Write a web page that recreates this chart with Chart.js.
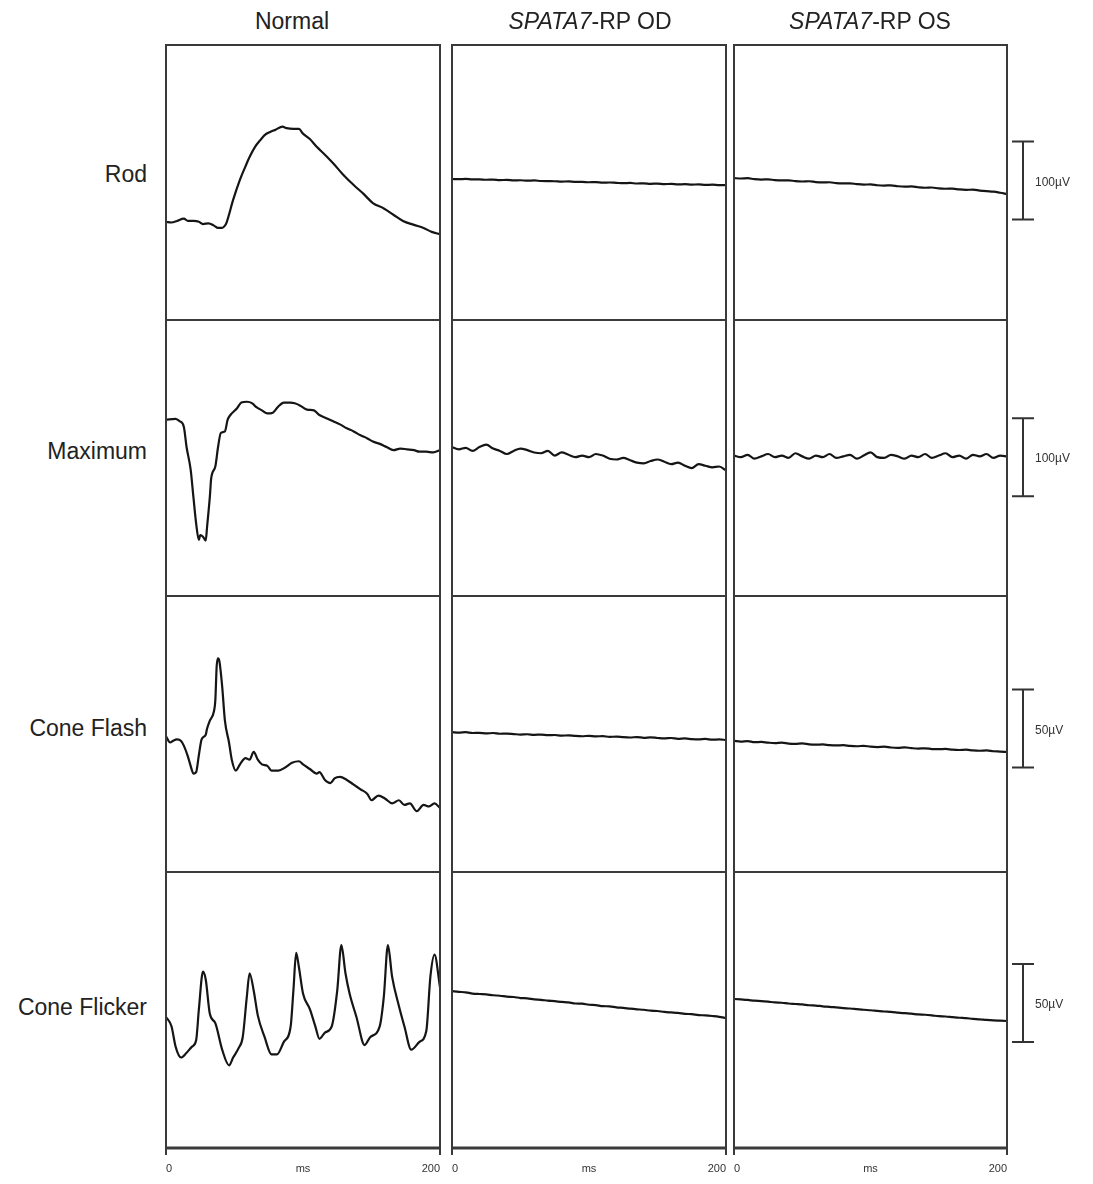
<!DOCTYPE html>
<html><head><meta charset="utf-8">
<script src="https://cdn.jsdelivr.net/npm/chart.js@4.4.1/dist/chart.umd.min.js"></script>
<style>
body{margin:0;background:#fff;width:1093px;height:1184px;position:relative;overflow:hidden;font-family:"Liberation Sans",Arial,sans-serif;color:#222}
.p{position:absolute}
.lab{position:absolute;font-size:23px;white-space:nowrap;line-height:1}
</style></head><body>
<script>
// ---------- data ----------
const rowNames = ['Rod', 'Maximum', 'Cone Flash', 'Cone Flicker'];
const gene = 'SPATA7';
const colTitles = ['Normal', '-RP OD', '-RP OS'];
const xTicks = ['0', 'ms', '200'];
const barSizes = [100, 100, 50, 50];          // µV
const barLow = [129, 128, 67, 68];            // µV, lower end of scale bar
const yMax = [352.6, 353.8, 176.9, 176.9];    // µV range of each row

const normalRodT = [0,4,8,13,16,20,24,27,31,35,38,41,43,44,49,54,58,61,65,69,72,76,80,85,88,93,97,100,105,110,116,122,129,137,144,151,159,166,173,181,188,194,200];
const normalRodV = [126,125,127,130,127,127,126,123,124,121,118,118,121,124,154,180,197,209,222,231,237,241,244,248,246,245,245,239,232,222,212,201,187,173,162,150,143,135,127,122,118,113,110];

const normalMaxT = [0,7,10,13,15,18,20,22,24,25,27,29,30,32,33,36,38,40,43,45,47,52,55,59,63,66,70,74,78,82,86,91,94,98,103,108,112,117,122,127,132,137,142,147,151,156,161,166,171,176,181,185,190,195,200];
const normalMaxV = [226,227,224,217,191,162,127,93,72,78,76,71,89,127,151,166,191,209,211,226,232,241,248,249,247,242,238,234,235,243,248,248,247,244,239,238,232,228,224,220,215,211,206,202,198,195,191,187,189,188,187,185,185,184,187];

const normalConeT = [0,3,5,8,11,13,16,19,20,22,24,26,29,30,32,35,36,37,38,39,41,43,46,48,51,54,58,61,64,67,70,74,77,82,87,92,97,100,105,110,112,116,120,123,127,132,137,142,147,150,155,160,165,170,174,178,183,188,192,196,200];
const normalConeV = [87,83,84,85,84,81,74,65,63,64,75,85,88,92,97,103,110,132,137,135,119,97,83,72,65,69,73,72,77,72,69,68,65,65,67,70,71,69,66,63,64,59,57,60,61,59,56,53,50,46,49,47,44,46,43,44,39,43,42,44,41];

const normalFlickT = [0,4,7,11,15,19,22,24,27,29,32,36,41,46,49,53,56,59,61,64,67,72,77,81,86,91,93,95,97,100,105,109,112,116,121,125,128,131,134,139,145,149,156,159,162,165,170,174,179,185,190,193,196,200];
const normalFlickV = [84,78,65,58,61,65,69,89,113,108,86,80,63,53,58,64,71,97,112,101,85,71,60,60,68,78,101,125,116,99,89,78,70,74,78,101,130,112,99,84,66,71,78,97,130,110,91,78,63,68,75,110,124,103];

const fineT = [0,5,10,15,20,25,30,35,40,45,50,55,60,65,70,75,80,85,90,95,100,105,110,115,120,125,130,135,140,145,150,155,160,165,170,175,180,185,190,195,200];

const rodOD = [180.8,180.5,180.9,180.2,180.3,179.8,180.0,179.4,179.6,179.0,179.2,178.6,178.9,178.2,178.0,177.9,177.4,177.8,177.0,177.2,176.6,176.9,176.1,176.3,175.8,175.4,175.7,175.0,175.3,174.6,174.9,174.2,174.5,173.9,174.1,173.6,173.9,173.2,173.5,172.9,173.1];
const rodOS = [182.0,181.4,181.8,180.6,180.1,180.4,179.3,178.9,179.1,178.0,177.6,177.9,176.8,176.5,176.6,175.4,175.1,175.3,174.2,173.6,173.9,172.8,172.4,172.7,171.5,170.9,171.3,170.2,169.6,169.9,168.7,168.3,168.5,167.4,166.9,167.1,166.0,165.2,164.6,163.2,161.5];
const maxOD = [191,188,190,186,191,194,189,186,182,186,189,187,184,183,186,180,184,181,178,180,178,182,180,176,175,177,174,171,170,173,175,172,169,171,167,164,169,167,165,166,161];
const maxOS = [180,178,181,176,179,182,178,180,177,183,179,176,180,178,182,177,179,181,176,180,184,178,177,181,179,176,180,178,182,177,180,183,178,180,176,181,179,182,177,180,179];
const coneOD = [89.7,89.3,89.6,89.1,89.2,88.8,89.1,88.6,88.7,88.4,88.1,88.3,87.9,88.1,87.7,87.8,87.4,87.6,87.2,87.0,87.3,86.9,87.1,86.6,86.8,86.4,86.2,86.5,86.0,86.3,85.9,85.6,85.9,85.3,85.6,85.2,85.0,85.3,84.8,85.0,84.6];
const coneOS = [84.0,83.6,83.9,83.2,83.4,82.9,82.6,82.9,82.3,82.1,82.4,81.8,81.6,81.8,81.3,81.1,81.3,80.8,80.6,80.9,80.3,80.1,80.3,79.8,79.6,79.9,79.4,79.1,79.3,78.8,78.7,78.9,78.4,78.2,78.4,77.9,77.7,77.9,77.4,77.2,76.9];
const flickOD = [100.6,100.1,99.8,99.0,98.7,98.5,97.9,97.6,97.0,96.8,96.1,95.9,95.2,95.0,94.4,94.1,93.6,93.3,92.6,92.5,91.8,91.6,90.9,90.8,90.1,89.8,89.3,88.9,88.6,88.0,87.8,87.2,86.9,86.6,86.0,85.8,85.2,85.0,84.6,84.1,83.3];
const flickOS = [95.5,95.2,94.9,94.4,94.2,93.8,93.3,93.1,92.6,92.3,92.0,91.5,91.3,90.8,90.5,90.1,89.7,89.4,89.0,88.6,88.3,87.9,87.5,87.2,86.8,86.4,86.1,85.6,85.4,85.0,84.5,84.3,83.9,83.5,83.2,82.8,82.5,82.1,81.8,81.6,81.4];

// ---------- layout ----------
const PAD = 10, AXH = 38, BARW = 90;
const colL = [166, 452, 734], colW = [274, 274, 273];
const rowT = [45, 320, 596, 872], rowH = [275, 276, 276, 276];
const FONT = '"Liberation Sans", Arial, sans-serif';

const boxPlugin = {
  id: 'box',
  afterDatasetsDraw(chart, args, opts) {
    const a = chart.chartArea, c = chart.ctx;
    c.save();
    c.strokeStyle = '#3a3a3a'; c.lineWidth = 2;
    c.strokeRect(a.left, a.top, a.right - a.left, a.bottom - a.top);
    if (opts.bottom) {
      c.lineWidth = 3; c.beginPath(); c.moveTo(a.left - 1, a.bottom); c.lineTo(a.right + 1, a.bottom); c.stroke();
      c.lineWidth = 2; c.beginPath();
      c.moveTo(a.left, a.bottom); c.lineTo(a.left, a.bottom + 7);
      c.moveTo(a.right, a.bottom); c.lineTo(a.right, a.bottom + 7);
      c.stroke();
    }
    c.restore();
  }
};
const barPlugin = {
  id: 'sbar',
  afterDraw(chart, args, opts) {
    if (!opts.show) return;
    const a = chart.chartArea, y = chart.scales.y, c = chart.ctx;
    const y0 = y.getPixelForValue(opts.lo), y1 = y.getPixelForValue(opts.lo + opts.size);
    const x = a.right + 16;
    c.save();
    c.strokeStyle = '#333'; c.lineWidth = 2;
    c.beginPath();
    c.moveTo(x, y0); c.lineTo(x, y1);
    c.moveTo(x - 11, y0); c.lineTo(x + 11, y0);
    c.moveTo(x - 11, y1); c.lineTo(x + 11, y1);
    c.stroke();
    c.fillStyle = '#333'; c.font = '12px ' + FONT; c.textBaseline = 'middle';
    c.fillText(opts.size + 'µV', x + 12, (y0 + y1) / 2 + 2);
    c.restore();
  }
};

function makePanel(ci, ri, T, V) {
  const bottom = ri === 3, right = ci === 2;
  const div = document.createElement('div'); div.className = 'p';
  const w = colW[ci] + PAD + (right ? BARW : PAD);
  const h = rowH[ri] + PAD + (bottom ? AXH : PAD);
  div.style.left = (colL[ci] - PAD) + 'px'; div.style.top = (rowT[ri] - PAD) + 'px';
  div.style.width = w + 'px'; div.style.height = h + 'px';
  const cv = document.createElement('canvas'); div.appendChild(cv); document.body.appendChild(div);
  const xScale = { type: 'linear', min: 0, max: 200, display: bottom,
    border: { display: false },
    grid: { drawOnChartArea: false, drawTicks: true, tickLength: 12, color: 'rgba(0,0,0,0)' },
    ticks: { stepSize: 100, align: 'inner', padding: 2, color: '#333', maxRotation: 0, autoSkip: false,
      font: { size: 11, family: FONT }, callback: (v) => xTicks[Math.round(v / 100)] } };
  if (bottom) xScale.afterFit = (s) => { s.height = AXH; };
  new Chart(cv, {
    type: 'line',
    data: { datasets: [{ data: T.map((t, i) => ({ x: t, y: V[i] })), borderColor: '#151515', borderWidth: 2.2,
      pointRadius: 0, cubicInterpolationMode: 'monotone', fill: false }] },
    options: {
      responsive: true, maintainAspectRatio: false, animation: false, events: [],
      layout: { padding: { left: PAD, top: PAD, right: right ? BARW : PAD, bottom: bottom ? 0 : PAD } },
      scales: {
        x: xScale,
        y: { min: 0, max: yMax[ri], display: false }
      },
      plugins: { legend: { display: false }, tooltip: { enabled: false },
        box: { bottom: bottom },
        sbar: { show: right, lo: barLow[ri], size: barSizes[ri] } }
    },
    plugins: [boxPlugin, barPlugin]
  });
}

const traces = [
  [[normalRodT, normalRodV], [fineT, rodOD], [fineT, rodOS]],
  [[normalMaxT, normalMaxV], [fineT, maxOD], [fineT, maxOS]],
  [[normalConeT, normalConeV], [fineT, coneOD], [fineT, coneOS]],
  [[normalFlickT, normalFlickV], [fineT, flickOD], [fineT, flickOS]]
];
traces.forEach((row, ri) => row.forEach((tr, ci) => makePanel(ci, ri, tr[0], tr[1])));

// ---------- text ----------
function addLabel(html, x, y, anchor) {
  const d = document.createElement('div'); d.className = 'lab'; d.innerHTML = html;
  d.style.left = x + 'px'; d.style.top = y + 'px';
  d.style.transform = anchor === 'right' ? 'translate(-100%,-50%)' : 'translate(-50%,-50%)';
  document.body.appendChild(d);
}
const titleX = [292, 590, 870];
addLabel(colTitles[0], titleX[0], 21, 'center');
addLabel('<i>' + gene + '</i>' + colTitles[1], titleX[1], 21, 'center');
addLabel('<i>' + gene + '</i>' + colTitles[2], titleX[2], 21, 'center');
const rowLabelY = [174, 451, 728, 1007];
rowNames.forEach((n, i) => addLabel(n, 147, rowLabelY[i], 'right'));
</script>
</body></html>
